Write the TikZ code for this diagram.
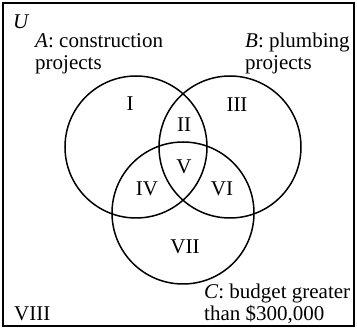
\documentclass[tikz,border=0pt]{standalone}
\usepackage{fontspec}
\setmainfont{Liberation Serif}
\usepackage{tikz}
\usetikzlibrary{positioning}

\begin{document}
\begin{tikzpicture}[x=1pt,y=-1pt,
	every node/.style={font=\fontsize{21}{22}\selectfont},
	setline/.style={line width=1.5pt},
	region/.style={inner sep=0pt},
	setname/.style={inner sep=0pt,anchor=base west,align=left}]
			\useasboundingbox (0,0) rectangle (357,329);
			\node (frame) [draw, setline, minimum width=351pt, minimum height=323pt, inner sep=0pt] at (178.5,164.5) {};
			\coordinate (cA) at (136,147);
			\coordinate (cB) at (230,147);
			\coordinate (cC) at (183,213);
			\draw[setline] (cA) circle (71) (cB) circle (71) (cC) circle (71);
			\node (U) [setname] at (13,29) {\textit{U}};
			\node (Aname) [setname] at (35,70) {\textit{A}: construction\\projects};
			\node (Bname) [setname] at (245,70) {\textit{B}: plumbing\\projects};
			\node (Cname) [setname] at (204,321) {\textit{C}: budget greater\\than \$300,000};
			\node (r1) [region] at (130,104) {I};
			\node (r2) [region] at (184,125) {II};
			\node (r3) [region] at (237,105) {III};
			\node (r4) [region] at (147,189) {IV};
			\node (r5) [region] at (184,167) {V};
			\node (r6) [region] at (222,189) {VI};
			\node (r7) [region] at (185,247) {VII};
			\node (r8) [setname] at (14,321) {VIII};
			\end{tikzpicture}
\end{document}
